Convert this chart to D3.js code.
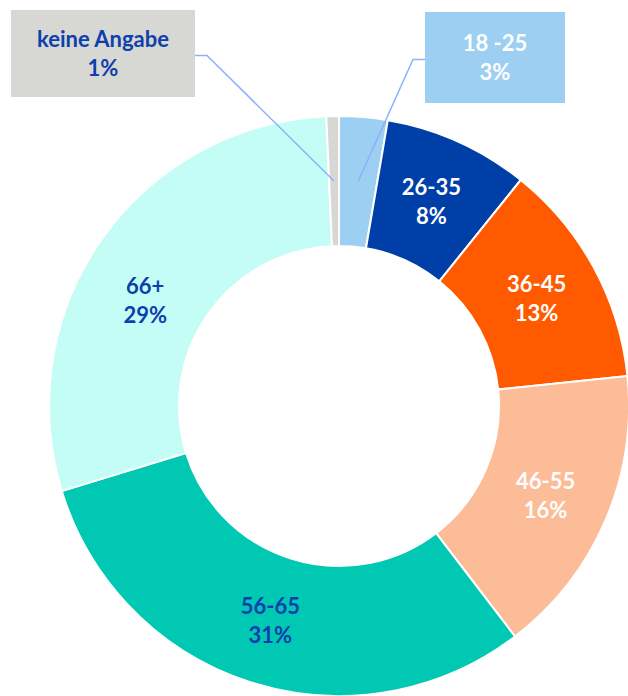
<!DOCTYPE html>
<html>
<head>
<meta charset="utf-8">
<script src="https://cdn.jsdelivr.net/npm/d3@7"></script>
<style>
  body { margin: 0; background: #fff; }
  svg text { font-family: Lato, "Open Sans", sans-serif; font-weight: bold; }
</style>
</head>
<body>
<svg id="chart"></svg>
<script>
// age groups, clockwise from 12 o'clock
var categories = ["18 -25", "26-35", "36-45", "46-55", "56-65", "66+", "keine Angabe"];
var shares     = [2.7, 8.1, 12.6, 16.3, 30.7, 29.1, 0.7];
var labels     = ["3%", "8%", "13%", "16%", "31%", "29%", "1%"];
var colors     = ["#9DCFF2", "#003FA8", "#FF5A00", "#FDBC98", "#00C8B3", "#C4FCF6", "#D7D7D3"];
var textColors = ["#fff", "#fff", "#fff", "#fff", "#0D3FAD", "#0D3FAD", "#0D3FAD"];

var width = 628, height = 696;
var cx = 339, cy = 406;
var outerR = 290, innerR = 160;
var fontSize = 22;

var svg = d3.select("#chart")
    .attr("width", width)
    .attr("height", height);

var g = svg.append("g")
    .attr("transform", "translate(" + cx + "," + cy + ")");

var pie = d3.pie().sort(null).value(function(d) { return d.value; });
var arc = d3.arc().innerRadius(innerR).outerRadius(outerR);

var data = categories.map(function(c, i) {
    return { name: c, value: shares[i], label: labels[i], color: colors[i], text: textColors[i] };
});
var arcs = pie(data);

g.selectAll("path.slice")
    .data(arcs)
    .enter()
    .append("path")
    .attr("class", "slice")
    .attr("d", arc)
    .attr("fill", function(d) { return d.data.color; })
    .attr("stroke", "#fff")
    .attr("stroke-width", 2);

function twoLines(sel, d) {
    sel.append("tspan").attr("x", 0).attr("dy", "-0.28em").text(d.data.name);
    sel.append("tspan").attr("x", 0).attr("dy", "1.32em").text(d.data.label);
}

// labels inside the ring (the two tiny slices get callout boxes)
var inside = arcs.filter(function(d) { return d.data.value > 5; });

g.selectAll("text.inlabel")
    .data(inside)
    .enter()
    .append("text")
    .attr("class", "inlabel")
    .attr("text-anchor", "middle")
    .attr("font-size", fontSize)
    .attr("fill", function(d) { return d.data.text; })
    .attr("transform", function(d) {
        var c = arc.centroid(d);
        // 66+ label was dragged a bit down in the original
        if (d.data.name === "66+") { c = [c[0] - 10, c[1] + 24]; }
        return "translate(" + c[0] + "," + c[1] + ")";
    })
    .each(function(d) { twoLines(d3.select(this), d); });

// callouts
var callouts = [
    { idx: 0, box: [425, 12, 140, 91], side: "left" },
    { idx: 6, box: [11, 10, 184, 87], side: "right" }
];

callouts.forEach(function(co) {
    var d = arcs[co.idx];
    var c = arc.centroid(d);
    var ax = cx + c[0], ay = cy + c[1];
    var b = co.box;
    var midY = b[1] + b[3] / 2 + 2;
    var edgeX = co.side === "left" ? b[0] : b[0] + b[2];
    var elbowX = co.side === "left" ? edgeX - 12 : edgeX + 12;

    svg.append("polyline")
        .attr("points", [[ax, ay], [elbowX, midY], [edgeX, midY]].map(function(p) { return p.join(","); }).join(" "))
        .attr("fill", "none")
        .attr("stroke", "#8AB2FA")
        .attr("stroke-width", 1.5);

    svg.append("rect")
        .attr("x", b[0]).attr("y", b[1])
        .attr("width", b[2]).attr("height", b[3])
        .attr("fill", d.data.color);

    svg.append("text")
        .attr("text-anchor", "middle")
        .attr("font-size", fontSize)
        .attr("fill", d.data.text)
        .attr("transform", "translate(" + (b[0] + b[2] / 2) + "," + (b[1] + b[3] / 2) + ")")
        .call(twoLines, d);
});
</script>
</body>
</html>
